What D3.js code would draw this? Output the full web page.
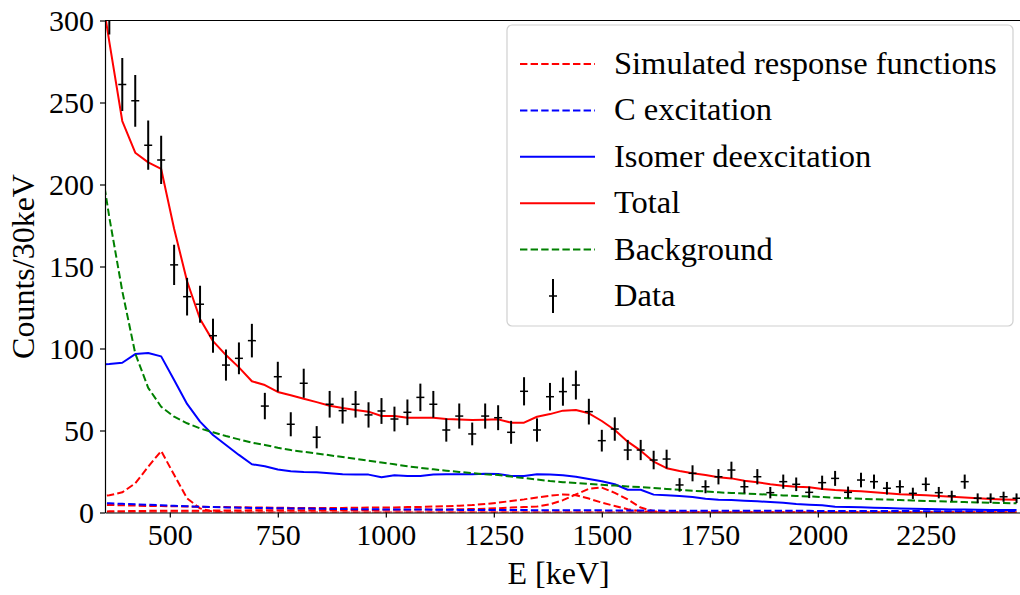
<head>
  <script src="https://d3js.org/d3.v7.min.js"></script>
</head>
<style>
  body { margin: 0; background: #fff; }
  text { font-family: "Liberation Serif", "DejaVu Serif", serif; fill: #000; }
</style>
<body>
  <svg id="chart"></svg>
</body>
<script>
  var w = 1020;
  var h = 595;
  var margin = {top: 20.5, right: 0, bottom: 82.5, left: 105};

  // bin centres (keV), 30 keV bins
  var energies = [330, 360, 390, 420, 450, 480, 510, 540, 570, 600, 630, 660, 690, 720, 750, 780,
    810, 840, 870, 900, 930, 960, 990, 1020, 1050, 1080, 1110, 1140, 1170, 1200, 1230, 1260,
    1290, 1320, 1350, 1380, 1410, 1440, 1470, 1500, 1530, 1560, 1590, 1620, 1650, 1680, 1710,
    1740, 1770, 1800, 1830, 1860, 1890, 1920, 1950, 1980, 2010, 2040, 2070, 2100, 2130, 2160,
    2190, 2220, 2250, 2280, 2310, 2340, 2370, 2400, 2430, 2460];

  // measured counts (first bin 330 has no data point)
  var counts = [null, 309, 261, 251, 224, 215, 151, 131.6, 127, 107.8, 89.9, 94, 104.8, 64.9, 82.8, 53.8,
    78.8, 45.9, 66, 62.1, 66, 59.5, 61.9, 57, 61.1, 70.2, 66, 50.3, 58.8, 47.9, 58.8, 57.8,
    48.9, 73.9, 50.3, 70.6, 73.7, 77.7, 61.5, 43.8, 50.9, 38.1, 38.1, 32, 32.6, 16.8, 23.9,
    15.7, 21.8, 25.9, 15.7, 21.8, 12.1, 18.8, 17.2, 12.3, 18.2, 20.8, 12.3, 19.8, 18.8, 14.8,
    15.7, 11.7, 17.2, 12.1, 10.1, 18.8, 8.7, 8.7, 9.6, 8.7];

  var total = [337, 287, 238.7, 219.4, 213.5, 209.5, 173, 141, 118, 104.5, 96, 88.5, 80, 77.7, 73.5, 71.5,
    69.4, 67.3, 65.1, 63.7, 62.5, 61.5, 58.8, 58.8, 57.8, 57.8, 57.8, 57, 56.7, 56.4, 56.6, 56.8,
    54.8, 54.8, 58.4, 60, 62.1, 62.5, 60.5, 55.8, 50.3, 43.2, 37.7, 31, 27, 25.3, 23.9,
    22.9, 21.5, 20.8, 19.4, 18.4, 17.2, 16.3, 15.7, 15.4, 14.3, 13.7, 13.3, 12.9, 12.3, 11.7,
    11.1, 10.8, 10.5, 10.0, 9.6, 9.1, 8.7, 8.3, 8.0, 7.7];

  var isomer = [90, 90.5, 91.3, 96.6, 97.3, 95.2, 80.8, 66.2, 55.4, 47.3, 41.2, 35.1, 29.4, 28.2, 26.2, 25.2,
    24.7, 24.5, 23.9, 23.3, 23.1, 23.1, 21.5, 22.7, 22.3, 22.2, 23.1, 23.3, 23.3, 23.3, 23.7, 23.5,
    22.3, 22.3, 23.3, 23.1, 22.7, 21.8, 20.4, 19, 17.2, 13.9, 13.9, 10.9, 10.5, 10.1, 9.5,
    8.4, 7.8, 7.6, 7.2, 6.8, 6.4, 6.0, 5.2, 4.8, 4.4, 3.5, 3.3, 3.2, 2.9, 2.7,
    2.5, 2.3, 2.1, 2.0, 1.9, 1.8, 1.7, 1.6, 1.5, 1.5];

  var background = [230, 180, 135, 97, 76, 64.5, 58.4, 54.4, 51.3, 48.9, 46.6, 44.6, 42.6, 41.2, 39.5, 38.1,
    37.0, 36.0, 34.9, 33.8, 32.7, 31.6, 30.5, 29.4, 28.2, 27.2, 26.3, 25.5, 24.7, 24.0, 23.3, 22.9,
    21.9, 21.0, 20.1, 19.2, 18.5, 18.0, 17.4, 16.9, 16.4, 15.9, 15.5, 15.0, 14.4, 13.9, 13.3,
    12.8, 12.3, 11.9, 11.6, 11.2, 10.8, 10.4, 10.1, 9.8, 9.4, 9.0, 8.7, 8.4, 8.1, 7.9,
    7.6, 7.3, 7.0, 6.8, 6.6, 6.4, 6.1, 5.9, 5.8, 5.6];

  var cExcitation = [6.0, 5.6, 5.3, 5.0, 4.7, 4.4, 4.1, 3.8, 3.5, 3.3, 3.1, 2.9, 2.8, 2.7, 2.6, 2.5,
    2.4, 2.3, 2.2, 2.1, 2.0, 2.0, 1.9, 1.9, 1.8, 1.8, 1.7, 1.7, 1.6, 1.6, 1.5, 1.5,
    1.5, 1.5, 1.4, 1.4, 1.4, 1.3, 1.3, 1.3, 1.2, 1.2, 1.2, 1.2, 1.1, 1.1, 1.1,
    1.1, 1.1, 1.0, 1.0, 1.0, 1.0, 1.0, 1.0, 1.0, 0.9, 0.9, 0.9, 0.9, 0.9, 0.9,
    0.9, 0.9, 0.8, 0.8, 0.8, 0.8, 0.8, 0.8, 0.8, 0.8];

  // simulated response functions (one array per function)
  var resp511 = [9.5, 10.5, 12.3, 17.8, 27.9, 37.5, 23, 8.6, 2.5, 0.5, 0.1, 0, 0, 0, 0, 0,
    0, 0, 0, 0, 0, 0, 0, 0, 0, 0, 0, 0, 0, 0, 0, 0,
    0, 0, 0, 0, 0, 0, 0, 0, 0, 0, 0, 0, 0, 0, 0,
    0, 0, 0, 0, 0, 0, 0, 0, 0, 0, 0, 0, 0, 0, 0,
    0, 0, 0, 0, 0, 0, 0, 0, 0, 0];
  var resp1410 = [4.8, 4.6, 4.4, 4.2, 4.0, 3.9, 3.8, 3.6, 3.5, 3.4, 3.3, 3.2, 3.1, 3.0, 2.9, 2.8,
    2.7, 2.7, 2.7, 2.8, 2.9, 3.0, 3.0, 3.1, 3.3, 3.4, 3.6, 3.8, 4.1, 4.5, 5.2, 6.0,
    7.0, 8.0, 9.2, 10.2, 11.0, 10.5, 8.5, 6.0, 4.0, 2.0, 0.8, 0.2, 0, 0, 0,
    0, 0, 0, 0, 0, 0, 0, 0, 0, 0, 0, 0, 0, 0, 0,
    0, 0, 0, 0, 0, 0, 0, 0, 0, 0];
  var resp1490 = [0.6, 0.7, 0.8, 0.9, 1.0, 1.0, 1.1, 1.1, 1.1, 1.2, 1.2, 1.2, 1.3, 1.3, 1.3, 1.4,
    1.4, 1.4, 1.5, 1.5, 1.5, 1.6, 1.6, 1.7, 1.7, 1.8, 1.8, 1.9, 2.0, 2.1, 2.3, 2.6,
    3.0, 3.3, 3.6, 5.0, 7.5, 11.0, 14.5, 15.2, 12.0, 8.0, 3.0, 0.8, 0, 0, 0,
    0, 0, 0, 0, 0, 0, 0, 0, 0, 0, 0, 0, 0, 0, 0,
    0, 0, 0, 0, 0, 0, 0, 0, 0, 0];
  var respZero = energies.map(function(){ return 0; });

  var xTicks = [500, 750, 1000, 1250, 1500, 1750, 2000, 2250];
  var yTicks = [0, 50, 100, 150, 200, 250, 300];

  var legendLabels = ["Simulated response functions", "C excitation", "Isomer deexcitation",
    "Total", "Background", "Data"];

  var svg = d3.select("svg#chart")
      .attr("width", w)
      .attr("height", h);

  var x = d3.scaleLinear().domain([350, 2468]).range([margin.left, w - margin.right]);
  var y = d3.scaleLinear().domain([0, 300]).range([h - margin.bottom, margin.top]);

  svg.append("clipPath").attr("id", "clip")
    .append("rect")
      .attr("x", margin.left)
      .attr("y", margin.top)
      .attr("width", w - margin.left)
      .attr("height", h - margin.bottom - margin.top);

  var plot = svg.append("g").attr("clip-path", "url(#clip)");

  function series(vals){
    return energies.map(function(e, i){ return [e, vals[i]]; });
  }
  var line = d3.line()
      .x(function(d){ return x(d[0]); })
      .y(function(d){ return y(d[1]); });

  var dash = "7.4,3.2";
  var curves = [
    {vals: respZero, color: "#ff0000", dash: dash},
    {vals: resp511, color: "#ff0000", dash: dash},
    {vals: resp1410, color: "#ff0000", dash: dash},
    {vals: resp1490, color: "#ff0000", dash: dash},
    {vals: cExcitation, color: "#0000ff", dash: dash},
    {vals: isomer, color: "#0000ff", dash: null},
    {vals: total, color: "#ff0000", dash: null},
    {vals: background, color: "#008000", dash: dash}
  ];

  plot.selectAll("path.curve")
    .data(curves)
    .enter().append("path")
      .attr("class", "curve")
      .attr("d", function(d){ return line(series(d.vals)); })
      .attr("fill", "none")
      .attr("stroke", function(d){ return d.color; })
      .attr("stroke-width", 2)
      .attr("stroke-linejoin", "round")
      .attr("stroke-dasharray", function(d){ return d.dash; });

  // data with poisson errors
  var pts = energies.map(function(e, i){ return {e: e, c: counts[i]}; })
      .filter(function(d){ return d.c !== null; });

  var pt = plot.selectAll("g.pt")
    .data(pts)
    .enter().append("g")
      .attr("class", "pt");
  pt.append("line")
      .attr("x1", function(d){ return x(d.e); })
      .attr("x2", function(d){ return x(d.e); })
      .attr("y1", function(d){ return y(d.c - Math.sqrt(d.c)); })
      .attr("y2", function(d){ return y(d.c + Math.sqrt(d.c)); })
      .attr("stroke", "#000")
      .attr("stroke-width", 2);
  pt.append("line")
      .attr("x1", function(d){ return x(d.e) - 4; })
      .attr("x2", function(d){ return x(d.e) + 4; })
      .attr("y1", function(d){ return y(d.c); })
      .attr("y2", function(d){ return y(d.c); })
      .attr("stroke", "#000")
      .attr("stroke-width", 1.5);

  // axes
  var xAxis = svg.append("g")
      .attr("transform", "translate(0," + (h - margin.bottom) + ")")
      .call(d3.axisBottom(x).tickValues(xTicks).tickFormat(d3.format("d"))
        .tickSize(5).tickPadding(6).tickSizeOuter(0));
  var yAxis = svg.append("g")
      .attr("transform", "translate(" + margin.left + ",0)")
      .call(d3.axisLeft(y).tickValues(yTicks).tickFormat(d3.format("d"))
        .tickSize(5).tickPadding(6).tickSizeOuter(0));
  [xAxis, yAxis].forEach(function(a){
    a.select(".domain").attr("stroke", "#000").attr("stroke-width", 1.2);
    a.selectAll(".tick line").attr("stroke", "#000").attr("stroke-width", 1.2);
    a.selectAll(".tick text")
      .style("font-family", '"Liberation Serif", serif')
      .style("font-size", "30px");
  });
  svg.append("line")
      .attr("x1", margin.left).attr("x2", w)
      .attr("y1", margin.top).attr("y2", margin.top)
      .attr("stroke", "#000").attr("stroke-width", 1.2);

  svg.append("text")
      .attr("x", x(1400))
      .attr("y", 584)
      .attr("text-anchor", "middle")
      .style("font-size", "32px")
      .text("E [keV]");
  svg.append("text")
      .attr("transform", "translate(34," + ((margin.top + h - margin.bottom) / 2) + ") rotate(-90)")
      .attr("text-anchor", "middle")
      .style("font-size", "32px")
      .text("Counts/30keV");

  // legend
  var lg = svg.append("g").attr("transform", "translate(507,25)");
  lg.append("rect")
      .attr("width", 506).attr("height", 301)
      .attr("rx", 5)
      .attr("fill", "#fff").attr("fill-opacity", 0.8)
      .attr("stroke", "#d0d0d0").attr("stroke-width", 1.2);
  var legendStyle = [
    {color: "#ff0000", dash: dash},
    {color: "#0000ff", dash: dash},
    {color: "#0000ff", dash: null},
    {color: "#ff0000", dash: null},
    {color: "#008000", dash: dash},
    {color: "#000", dash: null}
  ];
  var row = lg.selectAll("g.row")
    .data(legendLabels)
    .enter().append("g")
      .attr("class", "row")
      .attr("transform", function(d, i){ return "translate(0," + (39 + i * 46.4) + ")"; });
  row.each(function(d, i){
    var g = d3.select(this);
    var s = legendStyle[i];
    if (i < 5) {
      g.append("line")
        .attr("x1", 13).attr("x2", 88)
        .attr("stroke", s.color).attr("stroke-width", 2)
        .attr("stroke-dasharray", s.dash);
    } else {
      g.append("line")
        .attr("x1", 46).attr("x2", 46).attr("y1", -17).attr("y2", 17)
        .attr("stroke", "#000").attr("stroke-width", 2);
      g.append("line")
        .attr("x1", 42).attr("x2", 50)
        .attr("stroke", "#000").attr("stroke-width", 1.5);
    }
    g.append("text")
      .attr("x", 107)
      .attr("y", 10)
      .style("font-size", "32.5px")
      .text(d);
  });
</script>
